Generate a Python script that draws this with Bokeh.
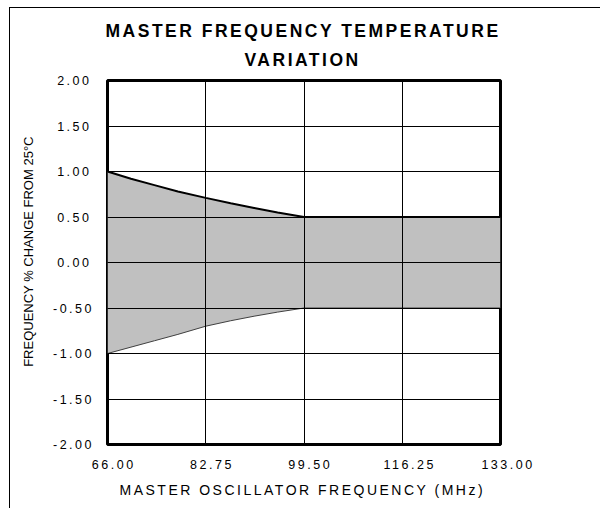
import math
from bokeh.plotting import figure
from bokeh.layouts import row
from bokeh.models import FixedTicker, Range1d, Title, Label
from bokeh.embed import file_html
from bokeh.resources import INLINE

# ---- data ----
freq = [66.0, 70.0, 74.0, 78.0, 82.75, 87.0, 91.0, 95.0, 99.5, 133.0]
upper = [1.00, 0.92, 0.85, 0.78, 0.71, 0.65, 0.60, 0.55, 0.50, 0.50]
lower = [-1.00, -0.93, -0.86, -0.79, -0.70, -0.64, -0.59, -0.545, -0.50, -0.50]

x_ticks = [66.0, 82.75, 99.5, 116.25, 133.0]
x_tick_labels = ["66.00", "82.75", "99.50", "116.25", "133.00"]
y_ticks = [-2.0, -1.5, -1.0, -0.5, 0.0, 0.5, 1.0, 1.5, 2.0]
y_tick_labels = ["-2.00", "-1.50", "-1.00", "-0.50", "0.00", "0.50", "1.00", "1.50", "2.00"]

title_lines = ["MASTER FREQUENCY TEMPERATURE", "VARIATION"]
x_label = "MASTER OSCILLATOR FREQUENCY (MHz)"
y_label = "FREQUENCY % CHANGE FROM 25°C"

FONT = "Liberation Sans"
LS = 2.5  # letter spacing (px) of the main chart texts

# ---- main chart ----
p = figure(width=550, height=500, title=None,
           x_range=Range1d(66, 133), y_range=Range1d(-2, 2),
           output_backend="svg", toolbar_location=None,
           min_border_left=56, min_border_right=100,
           min_border_top=72, min_border_bottom=64)
p.styles = {"letter-spacing": f"{LS}px"}

p.varea(x=freq, y1=lower, y2=upper, fill_color="#C0C0C0")
p.line(freq, upper, line_color="black", line_width=2)
p.line(freq, lower, line_color="#404040", line_width=1)

p.outline_line_color = "black"
p.outline_line_width = 3
p.background_fill_color = "white"
p.border_fill_color = "white"
for g in (p.xgrid, p.ygrid):
    g.grid_line_color = "black"
    g.grid_line_width = 1
    g.grid_line_alpha = 1
    g.level = "overlay"
p.xgrid.ticker = FixedTicker(ticks=x_ticks)
p.ygrid.ticker = FixedTicker(ticks=y_ticks)

p.xaxis.ticker = FixedTicker(ticks=x_ticks)
p.yaxis.ticker = FixedTicker(ticks=y_ticks)
p.xaxis.major_label_overrides = {t: s for t, s in zip(x_ticks, x_tick_labels)}
p.yaxis.major_label_overrides = {t: s for t, s in zip(y_ticks, y_tick_labels)}
for ax in (p.xaxis, p.yaxis):
    ax.axis_line_color = None
    ax.major_tick_line_color = None
    ax.minor_tick_line_color = None
    ax.major_tick_in = 0
    ax.major_tick_out = 0
    ax.major_label_text_font = FONT
    ax.major_label_text_font_size = "12.5px"
    ax.major_label_text_color = "black"
p.xaxis.major_label_standoff = 15
p.yaxis.major_label_standoff = 26

# x-axis caption (title below, left-anchored so the spaced text stays centred)
p.add_layout(Title(text=x_label, align="left", text_font=FONT,
                   text_font_size="14px", text_font_style="normal",
                   text_color="black", standoff=16, offset=12), "below")

# two-line title (first added sits closest to the plot)
p.add_layout(Title(text=title_lines[1], align="left", text_font=FONT,
                   text_font_size="17.5px", text_font_style="bold",
                   text_color="black", standoff=22, offset=137), "above")
p.add_layout(Title(text=title_lines[0], align="left", text_font=FONT,
                   text_font_size="17.5px", text_font_style="bold",
                   text_color="black", standoff=-8, offset=-2), "above")

# ---- narrow strip holding the (unspaced) y-axis caption ----
yl = figure(width=40, height=500, title=None,
            x_range=Range1d(0, 40), y_range=Range1d(0, 500),
            output_backend="svg", toolbar_location=None,
            x_axis_location=None, y_axis_location=None,
            min_border_left=0, min_border_right=0,
            min_border_top=0, min_border_bottom=0)
yl.outline_line_color = None
yl.background_fill_color = "white"
yl.border_fill_color = "white"
yl.xgrid.visible = False
yl.ygrid.visible = False
yl.add_layout(Label(x=18, y=265, text=y_label, angle=math.pi / 2,
                    text_align="center", text_baseline="middle",
                    text_font=FONT, text_font_size="13px",
                    text_color="black"))

layout = row(yl, p)
layout.styles = {"border-left": "1px solid black", "border-top": "1px solid black",
                 "margin-left": "9px", "margin-top": "7px"}

open("out.html", "w").write(file_html(layout, INLINE))
